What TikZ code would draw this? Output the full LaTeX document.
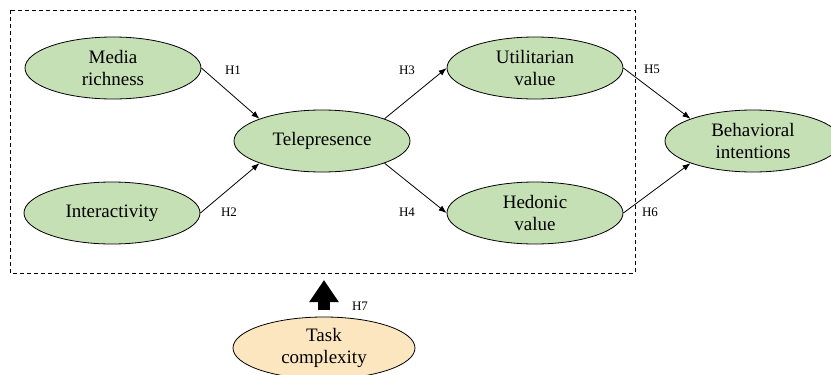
\documentclass[tikz,border=0pt]{standalone}
\usepackage{fontspec}
\setmainfont{Liberation Serif}
\usetikzlibrary{shapes.geometric,arrows.meta}
\definecolor{gfill}{RGB}{197,224,180}
\definecolor{ofill}{RGB}{252,230,191}
\begin{document}
\begin{tikzpicture}[x=1pt,y=-1pt,
  var/.style={ellipse, draw=black, line width=0.8pt, fill=gfill, minimum width=176pt, minimum height=62pt, inner sep=0pt, align=center, font=\fontsize{19}{22}\selectfont},
  mod/.style={var, fill=ofill, minimum width=182pt},
  conn/.style={line width=0.8pt, -{Latex[length=8pt,width=6pt]}},
  hlab/.style={font=\fontsize{13}{14}\selectfont, inner sep=0pt}]
\useasboundingbox (0,0) rectangle (831,375);
\draw[dash pattern=on 4pt off 3pt, line width=0.8pt] (10,10) rectangle (635,273);
\node[var] (mr) at (113,68) {Media\\richness};
\node[var] (ia) at (112,213) {Interactivity};
\node[var] (tp) at (322,141) {Telepresence};
\node[var] (uv) at (535,68) {Utilitarian\\value};
\node[var] (hv) at (535,213) {Hedonic\\value};
\node[var] (bi) at (753,141) {Behavioral\\intentions};
\node[mod] (tc) at (324,348) {Task\\complexity};
\draw[conn] (mr.east) -- (tp.north west);
\draw[conn] (ia.east) -- (tp.south west);
\draw[conn] (tp.north east) -- (uv.west);
\draw[conn] (tp.south east) -- (hv.west);
\draw[conn] (uv.east) -- (bi.north west);
\draw[conn] (hv.east) -- (bi.south west);
\node[hlab] (h1) at (233,70) {H1};
\node[hlab] (h2) at (229,212) {H2};
\node[hlab] (h3) at (407,70) {H3};
\node[hlab] (h4) at (407,212) {H4};
\node[hlab] (h5) at (652,69) {H5};
\node[hlab] (h6) at (650,212) {H6};
\node[hlab] (h7) at (360,306) {H7};
\coordinate (ab) at (324,310);
\coordinate (at) at (324,280);
\draw[line width=12pt, -{Triangle[length=22pt,width=28pt]}] (ab) -- (at);
\end{tikzpicture}
\end{document}
